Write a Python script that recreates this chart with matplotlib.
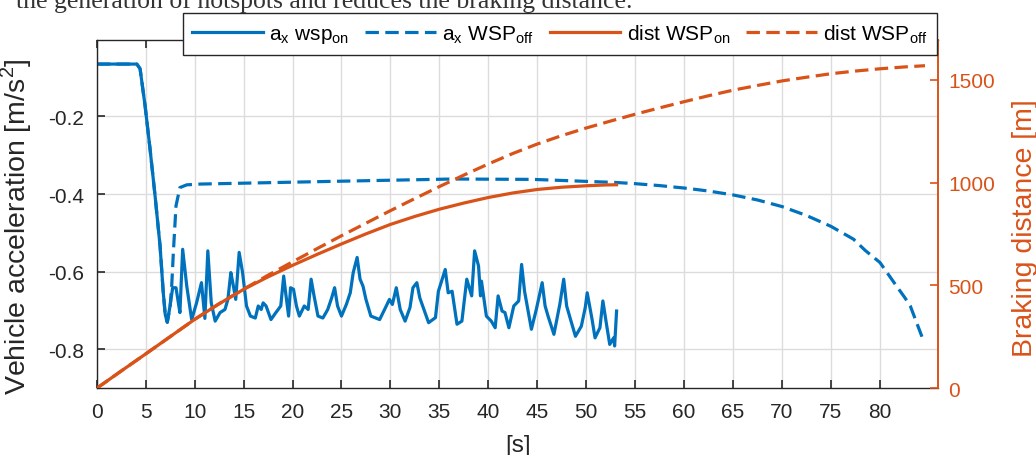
import matplotlib
matplotlib.use("Agg")
import matplotlib.pyplot as plt
from matplotlib.ticker import FixedLocator, FuncFormatter

plt.rcParams['font.family'] = ['Liberation Sans', 'DejaVu Sans']
plt.rcParams['mathtext.fontset'] = 'custom'
plt.rcParams['mathtext.rm'] = 'Liberation Sans'

# ---------------- data ----------------
t_on = [0, 4.1, 4.43, 4.94, 5.45, 5.96, 6.47, 6.8, 7.0, 7.21, 7.49, 7.76, 8.1, 8.34, 8.5,
        8.78, 9.2, 9.7, 10.2, 10.7, 11.05, 11.35, 11.7, 12.1, 12.6, 13.1, 13.4, 13.7, 13.9,
        14.2, 14.55, 14.9, 15.3, 15.7, 16.2, 16.5, 16.8, 17.0, 17.3, 17.8, 18.3, 18.8, 19.1,
        19.3, 19.6, 19.8, 20.1, 20.4, 20.7, 21.2, 21.6, 21.9, 22.2, 22.6, 23.1, 23.6, 24.0,
        24.3, 24.6, 25.0, 25.5, 25.9, 26.2, 26.6, 26.9, 27.2, 27.5, 28.0, 28.9, 29.5, 29.9,
        30.2, 30.6, 31.0, 31.5, 32.0, 32.3, 32.7, 33.0, 33.9, 34.6, 34.9, 35.6, 35.9, 36.3,
        36.8, 37.3, 37.8, 38.3, 38.6, 39.0, 39.2, 39.3, 39.8, 40.3, 40.7, 41.0, 41.4, 41.7,
        42.1, 42.6, 43.1, 43.4, 43.7, 44.4, 44.9, 45.5, 45.8, 46.1, 46.7, 47.3, 47.7, 48.0,
        48.4, 48.9, 49.5, 49.9, 50.1, 50.6, 50.9, 51.4, 51.7, 52.1, 52.4, 52.8, 52.9, 53.1]
a_on = [-0.065, -0.065, -0.077, -0.172, -0.284, -0.404, -0.533, -0.654, -0.71, -0.73, -0.688,
        -0.641, -0.641, -0.68, -0.705, -0.542, -0.637, -0.723, -0.68, -0.628, -0.72, -0.546,
        -0.68, -0.727, -0.705, -0.697, -0.671, -0.602, -0.628, -0.671, -0.55, -0.602, -0.688,
        -0.714, -0.719, -0.688, -0.697, -0.68, -0.688, -0.723, -0.705, -0.688, -0.611, -0.654,
        -0.714, -0.641, -0.645, -0.688, -0.714, -0.688, -0.697, -0.619, -0.662, -0.714, -0.719,
        -0.697, -0.667, -0.641, -0.688, -0.714, -0.684, -0.654, -0.602, -0.563, -0.619, -0.637,
        -0.671, -0.714, -0.723, -0.692, -0.671, -0.684, -0.641, -0.697, -0.727, -0.692, -0.641,
        -0.628, -0.667, -0.731, -0.718, -0.65, -0.594, -0.654, -0.65, -0.735, -0.727, -0.619,
        -0.662, -0.546, -0.585, -0.662, -0.624, -0.714, -0.727, -0.744, -0.662, -0.701, -0.705,
        -0.744, -0.688, -0.675, -0.581, -0.65, -0.748, -0.697, -0.628, -0.688, -0.714, -0.761,
        -0.684, -0.619, -0.688, -0.723, -0.766, -0.74, -0.692, -0.654, -0.723, -0.77, -0.744,
        -0.675, -0.74, -0.787, -0.77, -0.791, -0.701]

t_off = [0, 4.1, 4.43, 4.94, 5.45, 5.96, 6.47, 6.8, 7.0, 7.21, 7.5, 7.66, 7.83, 8.1, 8.5,
         9.2, 10.6, 24.2, 36.4, 44.6, 53.1, 55.0, 57.5, 60.3, 62.5, 65.0, 67.5, 70.0, 72.5,
         75.0, 77.3, 78.5, 80.0, 81.7, 82.5, 83.1, 84.5]
a_off = [-0.065, -0.065, -0.077, -0.172, -0.284, -0.404, -0.533, -0.654, -0.71, -0.73, -0.69,
         -0.637, -0.55, -0.43, -0.383, -0.376, -0.374, -0.367, -0.361, -0.362, -0.370, -0.373,
         -0.378, -0.385, -0.392, -0.402, -0.415, -0.432, -0.455, -0.483, -0.516, -0.545,
         -0.576, -0.637, -0.665, -0.688, -0.781]

t_dist_on = [0, 2.5, 5, 7.5, 10, 12.5, 15, 17.5, 20, 22.5, 25, 27.5, 30, 32.5, 35, 37.5,
             40, 42.5, 45, 47.5, 50, 52, 53.1]
dist_on = [0, 84, 167, 251, 335, 411, 481, 542, 598, 651, 702, 751, 797, 836, 871, 901,
           928, 950, 967, 978, 985, 989, 990]

t_dist_off = [0, 2.5, 5, 7.5, 10, 12.5, 15, 17.5, 20, 22.5, 25, 27.5, 30, 32.5, 35, 37.5,
              40, 42.5, 45, 47.5, 50, 52.5, 55, 57.5, 60, 62.5, 65, 67.5, 70, 72.5, 75,
              77.5, 80, 82.5, 84.6]
dist_off = [0, 84, 167, 251, 335, 411, 482, 550, 615, 679, 742, 803, 864, 923, 981, 1037,
            1091, 1142, 1188, 1229, 1266, 1300, 1333, 1364, 1394, 1423, 1450, 1473, 1495,
            1513, 1530, 1543, 1554, 1563, 1569]

x_ticks = [0, 5, 10, 15, 20, 25, 30, 35, 40, 45, 50, 55, 60, 65, 70, 75, 80]
y_ticks = [-0.8, -0.6, -0.4, -0.2]
y2_ticks = [0, 500, 1000, 1500]

labels = [r'a$_{\mathregular{x}}$ wsp$_{\mathregular{on}}$',
          r'a$_{\mathregular{x}}$ WSP$_{\mathregular{off}}$',
          r'dist WSP$_{\mathregular{on}}$',
          r'dist WSP$_{\mathregular{off}}$']

BLUE = '#0072BD'
ORANGE = '#D95319'
AXC = '#262626'

# ---------------- figure ----------------
W, H = 1036, 456
fig = plt.figure(figsize=(W / 100, H / 100), dpi=100)
L, R, B, T = 96.7, 938.3, 389.3, 41.0
ax = fig.add_axes([L / W, 1 - B / H, (R - L) / W, (B - T) / H])
ax2 = ax.twinx()

lw = 2.3
dash = (4.2, 2.0)
l1, = ax.plot(t_on, a_on, color=BLUE, lw=lw, solid_joinstyle='round')
l2, = ax.plot(t_off, a_off, color=BLUE, lw=lw, linestyle=(0, dash))
l3, = ax2.plot(t_dist_on, dist_on, color=ORANGE, lw=lw)
l4, = ax2.plot(t_dist_off, dist_off, color=ORANGE, lw=lw, linestyle=(0, dash))

ax.set_xlim(0, 85.96)
ax.set_ylim(-0.9, -0.003)
ax2.set_ylim(0, 1694)

ax.xaxis.set_major_locator(FixedLocator(x_ticks))
ax.yaxis.set_major_locator(FixedLocator(y_ticks))
ax2.yaxis.set_major_locator(FixedLocator(y2_ticks))
ax.yaxis.set_major_formatter(FuncFormatter(lambda v, p: f'{v:.1f}'))
ax2.yaxis.set_major_formatter(FuncFormatter(lambda v, p: f'{int(v)}'))

ax.grid(True, color='#dcdcdc', lw=1.0)
ax.set_axisbelow(True)

tfs = 15
ax.tick_params(axis='x', direction='in', length=6, width=1.2, colors=AXC, labelsize=tfs,
               pad=10, top=True)
ax.tick_params(axis='y', direction='in', length=6, width=1.2, colors=AXC, labelsize=tfs,
               pad=9, right=False)
ax2.tick_params(axis='y', direction='in', length=6, width=1.2, colors=ORANGE,
                labelsize=tfs, pad=7)
for s in ['left', 'bottom', 'top']:
    ax.spines[s].set_color(AXC)
    ax.spines[s].set_linewidth(1.0)
    ax2.spines[s].set_visible(False)
ax2.spines['right'].set_color(ORANGE)
ax2.spines['right'].set_linewidth(1.4)
ax.spines['right'].set_visible(False)

lfs = 20.5
ax.set_xlabel('[s]', fontsize=17.5, color=AXC)
ax.xaxis.set_label_coords(0.501, -0.13)
ax.set_ylabel(r'Vehicle acceleration [m/s$^{\mathregular{2}}$]', fontsize=lfs, color=AXC)
ax.yaxis.set_label_coords(-0.0745, 0.466)
ax2.set_ylabel('Braking distance [m]', fontsize=lfs, color=ORANGE)
ax2.yaxis.set_label_coords(1.087, 0.462)

leg = ax2.legend([l1, l2, l3, l4], labels, ncol=4, loc='upper right',
                 bbox_to_anchor=(936.5 / W, 1 - 14 / H), bbox_transform=fig.transFigure,
                 fontsize=15, frameon=True, fancybox=False, borderaxespad=0,
                 handlelength=3.4, handletextpad=0.3, columnspacing=0.75,
                 borderpad=0.45, edgecolor=AXC, framealpha=1)
leg.get_frame().set_linewidth(1.0)

# partially visible body text cut at the top of the picture
fig.text(16 / W, 1 - 8 / H, 'the generation of hotspots and reduces the braking distance.',
         family=['Liberation Serif'], fontsize=18.5, color='#333333', va='baseline',
         ha='left')

fig.savefig('out.png', dpi=100)
